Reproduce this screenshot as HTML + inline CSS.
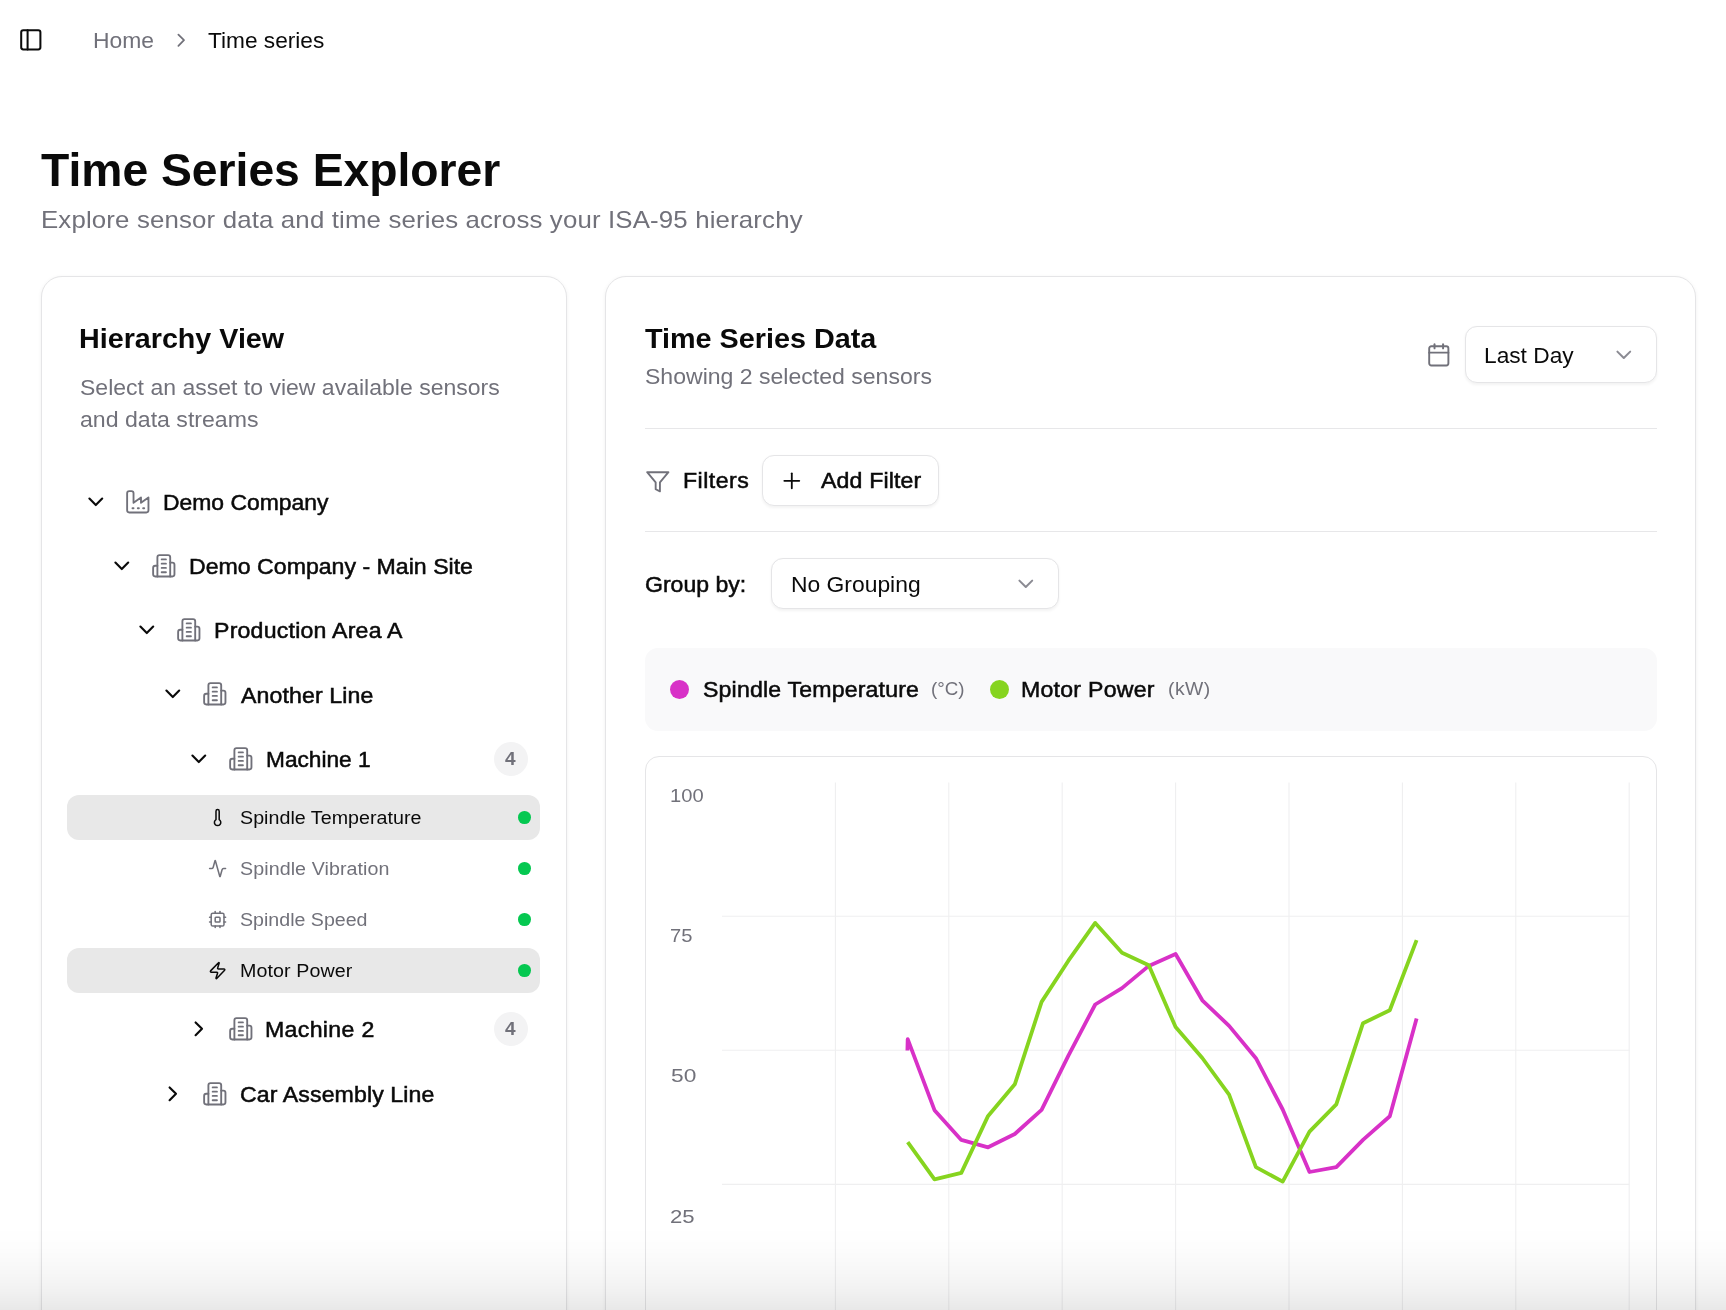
<!DOCTYPE html>
<html lang="en"><head><meta charset="utf-8"><title>Time Series Explorer</title>
<style>
html,body{margin:0;padding:0;background:#fff}
body{width:1726px;height:1310px;overflow:hidden;position:relative;font-family:"Liberation Sans",Arial,sans-serif;color:#0a0a0a;-webkit-font-smoothing:antialiased}
.t{position:absolute;white-space:pre;margin:0;transform-origin:0 0;will-change:transform}
.abs{position:absolute}
.card{position:absolute;background:#fff;border:1.4px solid #e5e5e7;border-radius:21px;box-shadow:0 1.5px 4px rgba(0,0,0,.06);box-sizing:border-box}
.ic{position:absolute;fill:none;stroke-linecap:round;stroke-linejoin:round}
.sel{position:absolute;background:#e8e8e8;border-radius:12px}
.dot{position:absolute;border-radius:50%}
.badge{position:absolute;width:34px;height:34px;border-radius:50%;background:#f3f3f4}
.btn{position:absolute;background:#fff;border:1.5px solid #e5e5e7;border-radius:12px;box-shadow:0 1.5px 3px rgba(0,0,0,.05);box-sizing:border-box}
.hr{position:absolute;height:1.5px;background:#e7e7e9}

</style></head><body>
<svg class="ic" style="left:18.10px;top:26.95px" width="25.6" height="25.6" viewBox="0 0 24 24" stroke="#0a0a0a" stroke-width="1.9"><rect width="18" height="18" x="3" y="3" rx="2"/><path d="M9 3v18"/></svg>
<svg class="ic" style="left:169.80px;top:29.20px" width="22.4" height="22.4" viewBox="0 0 24 24" stroke="#71717a" stroke-width="1.9"><path d="m9 18 6-6-6-6"/></svg>
<div class="card" style="left:40.5px;top:276px;width:526.7px;height:1100px"></div>
<div class="card" style="left:604.5px;top:276px;width:1091.2px;height:1100px"></div>
<svg class="ic" style="left:83.00px;top:488.70px" width="25.6" height="25.6" viewBox="0 0 24 24" stroke="#0a0a0a" stroke-width="2"><path d="m6 9 6 6 6-6"/></svg>
<svg class="ic" style="left:124.95px;top:488.70px" width="25.6" height="25.6" viewBox="0 0 24 24" stroke="#71717a" stroke-width="1.75"><path d="M2 20a2 2 0 0 0 2 2h16a2 2 0 0 0 2-2V8l-7 5V8l-7 5V4a2 2 0 0 0-2-2H4a2 2 0 0 0-2 2Z"/><path d="M17 18h1"/><path d="M12 18h1"/><path d="M7 18h1"/></svg>
<svg class="ic" style="left:108.70px;top:552.80px" width="25.6" height="25.6" viewBox="0 0 24 24" stroke="#0a0a0a" stroke-width="2"><path d="m6 9 6 6 6-6"/></svg>
<svg class="ic" style="left:150.65px;top:552.80px" width="25.6" height="25.6" viewBox="0 0 24 24" stroke="#71717a" stroke-width="1.75"><path d="M6 22V4a2 2 0 0 1 2-2h8a2 2 0 0 1 2 2v18Z"/><path d="M6 12H4a2 2 0 0 0-2 2v6a2 2 0 0 0 2 2h2"/><path d="M18 9h2a2 2 0 0 1 2 2v9a2 2 0 0 1-2 2h-2"/><path d="M10 6h4"/><path d="M10 10h4"/><path d="M10 14h4"/><path d="M10 18h4"/></svg>
<svg class="ic" style="left:134.40px;top:616.80px" width="25.6" height="25.6" viewBox="0 0 24 24" stroke="#0a0a0a" stroke-width="2"><path d="m6 9 6 6 6-6"/></svg>
<svg class="ic" style="left:176.35px;top:616.80px" width="25.6" height="25.6" viewBox="0 0 24 24" stroke="#71717a" stroke-width="1.75"><path d="M6 22V4a2 2 0 0 1 2-2h8a2 2 0 0 1 2 2v18Z"/><path d="M6 12H4a2 2 0 0 0-2 2v6a2 2 0 0 0 2 2h2"/><path d="M18 9h2a2 2 0 0 1 2 2v9a2 2 0 0 1-2 2h-2"/><path d="M10 6h4"/><path d="M10 10h4"/><path d="M10 14h4"/><path d="M10 18h4"/></svg>
<svg class="ic" style="left:160.10px;top:681.20px" width="25.6" height="25.6" viewBox="0 0 24 24" stroke="#0a0a0a" stroke-width="2"><path d="m6 9 6 6 6-6"/></svg>
<svg class="ic" style="left:202.05px;top:681.20px" width="25.6" height="25.6" viewBox="0 0 24 24" stroke="#71717a" stroke-width="1.75"><path d="M6 22V4a2 2 0 0 1 2-2h8a2 2 0 0 1 2 2v18Z"/><path d="M6 12H4a2 2 0 0 0-2 2v6a2 2 0 0 0 2 2h2"/><path d="M18 9h2a2 2 0 0 1 2 2v9a2 2 0 0 1-2 2h-2"/><path d="M10 6h4"/><path d="M10 10h4"/><path d="M10 14h4"/><path d="M10 18h4"/></svg>
<svg class="ic" style="left:185.80px;top:746.10px" width="25.6" height="25.6" viewBox="0 0 24 24" stroke="#0a0a0a" stroke-width="2"><path d="m6 9 6 6 6-6"/></svg>
<svg class="ic" style="left:227.75px;top:746.10px" width="25.6" height="25.6" viewBox="0 0 24 24" stroke="#71717a" stroke-width="1.75"><path d="M6 22V4a2 2 0 0 1 2-2h8a2 2 0 0 1 2 2v18Z"/><path d="M6 12H4a2 2 0 0 0-2 2v6a2 2 0 0 0 2 2h2"/><path d="M18 9h2a2 2 0 0 1 2 2v9a2 2 0 0 1-2 2h-2"/><path d="M10 6h4"/><path d="M10 10h4"/><path d="M10 14h4"/><path d="M10 18h4"/></svg>
<svg class="ic" style="left:185.80px;top:1016.20px" width="25.6" height="25.6" viewBox="0 0 24 24" stroke="#0a0a0a" stroke-width="2"><path d="m9 18 6-6-6-6"/></svg>
<svg class="ic" style="left:227.75px;top:1016.20px" width="25.6" height="25.6" viewBox="0 0 24 24" stroke="#71717a" stroke-width="1.75"><path d="M6 22V4a2 2 0 0 1 2-2h8a2 2 0 0 1 2 2v18Z"/><path d="M6 12H4a2 2 0 0 0-2 2v6a2 2 0 0 0 2 2h2"/><path d="M18 9h2a2 2 0 0 1 2 2v9a2 2 0 0 1-2 2h-2"/><path d="M10 6h4"/><path d="M10 10h4"/><path d="M10 14h4"/><path d="M10 18h4"/></svg>
<svg class="ic" style="left:160.10px;top:1080.80px" width="25.6" height="25.6" viewBox="0 0 24 24" stroke="#0a0a0a" stroke-width="2"><path d="m9 18 6-6-6-6"/></svg>
<svg class="ic" style="left:202.05px;top:1080.80px" width="25.6" height="25.6" viewBox="0 0 24 24" stroke="#71717a" stroke-width="1.75"><path d="M6 22V4a2 2 0 0 1 2-2h8a2 2 0 0 1 2 2v18Z"/><path d="M6 12H4a2 2 0 0 0-2 2v6a2 2 0 0 0 2 2h2"/><path d="M18 9h2a2 2 0 0 1 2 2v9a2 2 0 0 1-2 2h-2"/><path d="M10 6h4"/><path d="M10 10h4"/><path d="M10 14h4"/><path d="M10 18h4"/></svg>
<div class="badge" style="left:494.1px;top:742px"></div>
<div class="badge" style="left:494.1px;top:1011.9px"></div>
<div class="sel" style="left:67.2px;top:795px;width:472.8px;height:45px"></div>
<div class="sel" style="left:67.2px;top:948px;width:472.8px;height:45px"></div>
<svg class="ic" style="left:208.10px;top:807.90px" width="19.2" height="19.2" viewBox="0 0 24 24" stroke="#0a0a0a" stroke-width="1.9"><path d="M14 4v10.54a4 4 0 1 1-4 0V4a2 2 0 0 1 4 0Z"/></svg>
<div class="dot" style="left:518.1px;top:811.1px;width:12.8px;height:12.8px;background:#05c851"></div>
<svg class="ic" style="left:208.10px;top:858.90px" width="19.2" height="19.2" viewBox="0 0 24 24" stroke="#71717a" stroke-width="1.9"><path d="M22 12h-2.48a2 2 0 0 0-1.93 1.46l-2.35 8.36a.25.25 0 0 1-.48 0L9.24 2.18a.25.25 0 0 0-.48 0l-2.35 8.36A2 2 0 0 1 4.49 12H2"/></svg>
<div class="dot" style="left:518.1px;top:862.1px;width:12.8px;height:12.8px;background:#05c851"></div>
<svg class="ic" style="left:208.10px;top:909.90px" width="19.2" height="19.2" viewBox="0 0 24 24" stroke="#71717a" stroke-width="1.9"><rect width="16" height="16" x="4" y="4" rx="2"/><rect width="6" height="6" x="9" y="9" rx="1"/><path d="M15 2v2"/><path d="M15 20v2"/><path d="M2 15h2"/><path d="M2 9h2"/><path d="M20 15h2"/><path d="M20 9h2"/><path d="M9 2v2"/><path d="M9 20v2"/></svg>
<div class="dot" style="left:518.1px;top:913.1px;width:12.8px;height:12.8px;background:#05c851"></div>
<svg class="ic" style="left:208.10px;top:960.90px" width="19.2" height="19.2" viewBox="0 0 24 24" stroke="#0a0a0a" stroke-width="1.9"><path d="M4 14a1 1 0 0 1-.78-1.63l9.9-10.2a.5.5 0 0 1 .86.46l-1.92 6.02A1 1 0 0 0 13 10h7a1 1 0 0 1 .78 1.63l-9.9 10.2a.5.5 0 0 1-.86-.46l1.92-6.02A1 1 0 0 0 11 14z"/></svg>
<div class="dot" style="left:518.1px;top:964.1px;width:12.8px;height:12.8px;background:#05c851"></div>
<svg class="ic" style="left:1426.10px;top:342.00px" width="25.6" height="25.6" viewBox="0 0 24 24" stroke="#71717a" stroke-width="1.8"><path d="M8 2v4"/><path d="M16 2v4"/><rect width="18" height="18" x="3" y="4" rx="2"/><path d="M3 10h18"/></svg>
<div class="btn" style="left:1464.5px;top:325.5px;width:192.5px;height:57px"></div>
<svg class="ic" style="left:1611.00px;top:342.10px" width="25.6" height="25.6" viewBox="0 0 24 24" stroke="#8b8b93" stroke-width="1.9"><path d="m6 9 6 6 6-6"/></svg>
<div class="hr" style="left:644.5px;top:427.7px;width:1012.5px"></div>
<svg class="ic" style="left:644.85px;top:468.60px" width="25.6" height="25.6" viewBox="0 0 24 24" stroke="#71717a" stroke-width="1.75"><polygon points="22 3 2 3 10 12.46 10 19 14 21 14 12.46 22 3"/></svg>
<div class="btn" style="left:762px;top:455px;width:176.8px;height:50.5px"></div>
<svg class="ic" style="left:778.80px;top:468.00px" width="25.6" height="25.6" viewBox="0 0 24 24" stroke="#0a0a0a" stroke-width="1.7"><path d="M5 12h14"/><path d="M12 5v14"/></svg>
<div class="hr" style="left:644.5px;top:530.5px;width:1012.5px"></div>
<div class="btn" style="left:771px;top:558px;width:287.5px;height:50.5px"></div>
<svg class="ic" style="left:1012.60px;top:570.90px" width="25.6" height="25.6" viewBox="0 0 24 24" stroke="#8b8b93" stroke-width="1.9"><path d="m6 9 6 6 6-6"/></svg>
<div class="abs" style="left:644.5px;top:648px;width:1012.5px;height:83.3px;background:#f9f9fa;border-radius:13px"></div>
<div class="dot" style="left:669.9px;top:679.8px;width:19px;height:19px;background:#d831c7"></div>
<div class="dot" style="left:989.5px;top:679.8px;width:19px;height:19px;background:#86d41f"></div>
<div class="abs" style="left:644.5px;top:755.7px;width:1012.5px;height:700px;border:1.5px solid #e5e5e7;border-radius:14px;box-sizing:border-box;background:#fff"></div>
<svg class="abs" style="left:0;top:0" width="1726" height="1310" viewBox="0 0 1726 1310" fill="none"><line x1="835.4" y1="782.5" x2="835.4" y2="1320" stroke="#efeff0" stroke-width="1.1"/><line x1="948.8" y1="782.5" x2="948.8" y2="1320" stroke="#efeff0" stroke-width="1.1"/><line x1="1062.2" y1="782.5" x2="1062.2" y2="1320" stroke="#efeff0" stroke-width="1.1"/><line x1="1175.6" y1="782.5" x2="1175.6" y2="1320" stroke="#efeff0" stroke-width="1.1"/><line x1="1289.0" y1="782.5" x2="1289.0" y2="1320" stroke="#efeff0" stroke-width="1.1"/><line x1="1402.4" y1="782.5" x2="1402.4" y2="1320" stroke="#efeff0" stroke-width="1.1"/><line x1="1515.8" y1="782.5" x2="1515.8" y2="1320" stroke="#efeff0" stroke-width="1.1"/><line x1="1629.2" y1="782.5" x2="1629.2" y2="1320" stroke="#efeff0" stroke-width="1.1"/><line x1="722" y1="916.3" x2="1629.4" y2="916.3" stroke="#efeff0" stroke-width="1.1"/><line x1="722" y1="1050.3" x2="1629.4" y2="1050.3" stroke="#efeff0" stroke-width="1.1"/><line x1="722" y1="1184.4" x2="1629.4" y2="1184.4" stroke="#efeff0" stroke-width="1.1"/><polyline points="907.4,1050.5 907.7,1039.2 934.5,1110.2 961.3,1139.9 988.1,1147.3 1014.8,1134.0 1041.6,1109.9 1068.4,1055.7 1095.2,1004.5 1122.0,988.1 1148.8,965.9 1175.6,954.0 1202.3,1000.3 1229.1,1025.9 1255.9,1058.2 1282.7,1109.5 1309.5,1172.0 1336.3,1167.2 1363.0,1139.9 1389.8,1116.3 1416.6,1018.6" stroke="#d831c7" stroke-width="3.8" stroke-linejoin="round" stroke-linecap="butt"/><polyline points="907.7,1142.2 934.5,1179.3 961.3,1172.9 988.1,1115.9 1014.8,1084.3 1041.6,1001.9 1068.4,960.7 1095.2,922.9 1122.0,952.7 1148.8,965.2 1175.6,1027.1 1202.3,1058.0 1229.1,1094.6 1255.9,1167.2 1282.7,1181.6 1309.5,1131.7 1336.3,1104.4 1363.0,1023.2 1389.8,1010.3 1416.6,940.1" stroke="#86d41f" stroke-width="3.8" stroke-linejoin="round" stroke-linecap="butt"/></svg>
<span class="t" style="left:92.52px;top:31.00px;font-size:21.5px;line-height:21.5px;font-weight:400;color:#71717a;letter-spacing:0.000px;transform:scaleX(1.0645);">Home</span>
<span class="t" style="left:207.97px;top:31.00px;font-size:21.5px;line-height:21.5px;font-weight:400;color:#0a0a0a;letter-spacing:0.000px;transform:scaleX(1.0541);">Time series</span>
<span class="t" style="left:40.56px;top:147.00px;font-size:46px;line-height:46px;font-weight:700;color:#0a0a0a;letter-spacing:0.000px;transform:scaleX(1.0055);">Time Series Explorer</span>
<span class="t" style="left:40.68px;top:208.00px;font-size:24px;line-height:24px;font-weight:400;color:#71717a;letter-spacing:0.150px;transform:scaleX(1.0750);">Explore sensor data and time series across your ISA-95 hierarchy</span>
<span class="t" style="left:79.43px;top:325.00px;font-size:28px;line-height:28px;font-weight:700;color:#0a0a0a;letter-spacing:0.000px;transform:scaleX(1.0242);">Hierarchy View</span>
<span class="t" style="left:79.97px;top:378.00px;font-size:21.5px;line-height:21.5px;font-weight:400;color:#71717a;letter-spacing:0.000px;transform:scaleX(1.0708);">Select an asset to view available sensors</span>
<span class="t" style="left:80.39px;top:410.00px;font-size:21.5px;line-height:21.5px;font-weight:400;color:#71717a;letter-spacing:0.000px;transform:scaleX(1.0744);">and data streams</span>
<span class="t" style="left:163.00px;top:493.00px;font-size:21.5px;line-height:21.5px;font-weight:400;color:#0a0a0a;letter-spacing:0.000px;transform:scaleX(1.0653);-webkit-text-stroke:0.5px #0a0a0a;">Demo Company</span>
<span class="t" style="left:188.78px;top:557.00px;font-size:21.5px;line-height:21.5px;font-weight:400;color:#0a0a0a;letter-spacing:0.004px;transform:scaleX(1.0750);-webkit-text-stroke:0.5px #0a0a0a;">Demo Company - Main Site</span>
<span class="t" style="left:214.28px;top:621.00px;font-size:21.5px;line-height:21.5px;font-weight:400;color:#0a0a0a;letter-spacing:0.203px;transform:scaleX(1.0750);-webkit-text-stroke:0.5px #0a0a0a;">Production Area A</span>
<span class="t" style="left:241.15px;top:686.00px;font-size:21.5px;line-height:21.5px;font-weight:400;color:#0a0a0a;letter-spacing:0.109px;transform:scaleX(1.0750);-webkit-text-stroke:0.5px #0a0a0a;">Another Line</span>
<span class="t" style="left:265.51px;top:750.00px;font-size:21.5px;line-height:21.5px;font-weight:400;color:#0a0a0a;letter-spacing:0.000px;transform:scaleX(1.0542);-webkit-text-stroke:0.5px #0a0a0a;">Machine 1</span>
<span class="t" style="left:265.28px;top:1020.00px;font-size:21.5px;line-height:21.5px;font-weight:400;color:#0a0a0a;letter-spacing:0.304px;transform:scaleX(1.0750);-webkit-text-stroke:0.5px #0a0a0a;">Machine 2</span>
<span class="t" style="left:240.15px;top:1085.00px;font-size:21.5px;line-height:21.5px;font-weight:400;color:#0a0a0a;letter-spacing:0.099px;transform:scaleX(1.0750);-webkit-text-stroke:0.5px #0a0a0a;">Car Assembly Line</span>
<span class="t" style="left:239.92px;top:809.00px;font-size:18.3px;line-height:18.3px;font-weight:400;color:#0a0a0a;letter-spacing:0.024px;transform:scaleX(1.0750);">Spindle Temperature</span>
<span class="t" style="left:239.92px;top:860.00px;font-size:18.3px;line-height:18.3px;font-weight:400;color:#71717a;letter-spacing:0.072px;transform:scaleX(1.0750);">Spindle Vibration</span>
<span class="t" style="left:239.92px;top:911.00px;font-size:18.3px;line-height:18.3px;font-weight:400;color:#71717a;letter-spacing:0.000px;transform:scaleX(1.0722);">Spindle Speed</span>
<span class="t" style="left:239.56px;top:962.00px;font-size:18.3px;line-height:18.3px;font-weight:400;color:#0a0a0a;letter-spacing:0.094px;transform:scaleX(1.0750);">Motor Power</span>
<span class="t" style="left:645.13px;top:325.00px;font-size:28px;line-height:28px;font-weight:700;color:#0a0a0a;letter-spacing:0.000px;transform:scaleX(1.0271);">Time Series Data</span>
<span class="t" style="left:644.67px;top:367.00px;font-size:21.5px;line-height:21.5px;font-weight:400;color:#71717a;letter-spacing:0.000px;transform:scaleX(1.0718);">Showing 2 selected sensors</span>
<span class="t" style="left:1484.44px;top:346.00px;font-size:21.5px;line-height:21.5px;font-weight:400;color:#0a0a0a;letter-spacing:0.000px;transform:scaleX(1.0562);">Last Day</span>
<span class="t" style="left:682.68px;top:471.00px;font-size:21.5px;line-height:21.5px;font-weight:400;color:#0a0a0a;letter-spacing:0.431px;transform:scaleX(1.0750);-webkit-text-stroke:0.5px #0a0a0a;">Filters</span>
<span class="t" style="left:821.05px;top:471.00px;font-size:21.5px;line-height:21.5px;font-weight:400;color:#0a0a0a;letter-spacing:0.140px;transform:scaleX(1.0750);-webkit-text-stroke:0.5px #0a0a0a;">Add Filter</span>
<span class="t" style="left:644.96px;top:575.00px;font-size:21.5px;line-height:21.5px;font-weight:400;color:#0a0a0a;letter-spacing:0.000px;transform:scaleX(1.0717);-webkit-text-stroke:0.5px #0a0a0a;">Group by:</span>
<span class="t" style="left:790.52px;top:575.00px;font-size:21.5px;line-height:21.5px;font-weight:400;color:#0a0a0a;letter-spacing:0.000px;transform:scaleX(1.0634);">No Grouping</span>
<span class="t" style="left:702.79px;top:680.00px;font-size:21.5px;line-height:21.5px;font-weight:400;color:#0a0a0a;letter-spacing:0.158px;transform:scaleX(1.0750);-webkit-text-stroke:0.5px #0a0a0a;">Spindle Temperature</span>
<span class="t" style="left:931.43px;top:680.00px;font-size:18px;line-height:18px;font-weight:400;color:#71717a;letter-spacing:-0.000px;transform:scaleX(1.0424);">(°C)</span>
<span class="t" style="left:1020.98px;top:680.00px;font-size:21.5px;line-height:21.5px;font-weight:400;color:#0a0a0a;letter-spacing:0.230px;transform:scaleX(1.0750);-webkit-text-stroke:0.5px #0a0a0a;">Motor Power</span>
<span class="t" style="left:1167.80px;top:680.00px;font-size:18px;line-height:18px;font-weight:400;color:#71717a;letter-spacing:0.409px;transform:scaleX(1.0750);">(kW)</span>
<span class="t" style="left:670.01px;top:786.00px;font-size:19px;line-height:19px;font-weight:400;color:#71717a;letter-spacing:-0.000px;transform:scaleX(1.0600);">100</span>
<span class="t" style="left:670.41px;top:926.00px;font-size:19px;line-height:19px;font-weight:400;color:#71717a;letter-spacing:0.000px;transform:scaleX(1.0616);">75</span>
<span class="t" style="left:670.58px;top:1066.00px;font-size:19px;line-height:19px;font-weight:400;color:#71717a;letter-spacing:0.000px;transform:scaleX(1.1965);">50</span>
<span class="t" style="left:670.30px;top:1207.00px;font-size:19px;line-height:19px;font-weight:400;color:#71717a;letter-spacing:0.000px;transform:scaleX(1.1657);">25</span>
<span class="t" style="left:504.65px;top:749.00px;font-size:19px;line-height:19px;font-weight:700;color:#71717a;letter-spacing:0.000px;transform:scaleX(1.0000);">4</span>
<span class="t" style="left:504.85px;top:1019.00px;font-size:19px;line-height:19px;font-weight:700;color:#71717a;letter-spacing:0.000px;transform:scaleX(1.0000);">4</span>
<div class="abs" style="left:0;top:1226px;width:1726px;height:84px;background:linear-gradient(to bottom,rgba(0,0,0,0) 0%,rgba(0,0,0,.008) 25%,rgba(0,0,0,.03) 55%,rgba(0,0,0,.06) 80%,rgba(0,0,0,.092) 100%)"></div>
</body></html>
